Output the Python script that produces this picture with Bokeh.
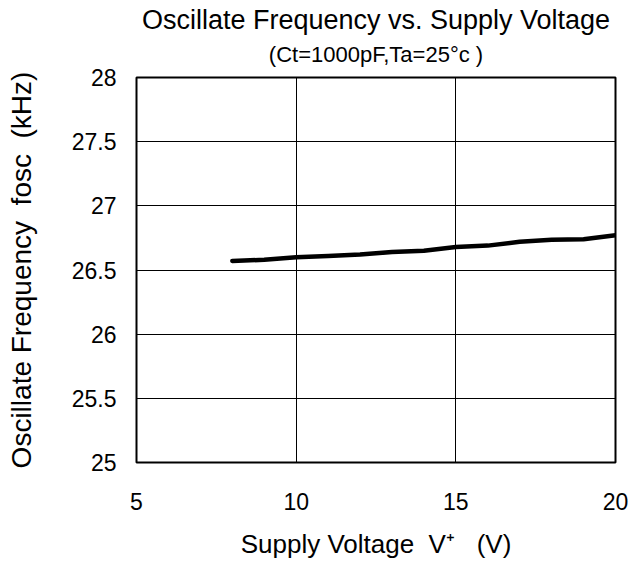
from bokeh.plotting import figure
from bokeh.models import Range1d, FixedTicker, Title
from bokeh.embed import file_html
from bokeh.resources import INLINE

# Data
supply_voltage = [8, 9, 10, 11, 12, 13, 14, 15, 16, 17, 18, 19, 20]
osc_freq_khz = [26.57, 26.58, 26.60, 26.61, 26.62, 26.64, 26.65, 26.68, 26.69, 26.72, 26.735, 26.74, 26.77]

x_ticks = [5, 10, 15, 20]
y_ticks = [25, 25.5, 26, 26.5, 27, 27.5, 28]
y_tick_labels = ["25", "25.5", "26", "26.5", "27", "27.5", "28"]

NB = "\u00a0"
title_line1 = "Oscillate Frequency vs. Supply Voltage"
title_line2 = "(Ct=1000pF,Ta=25\u00b0c" + NB + ")"
x_label = "Supply Voltage" + NB + NB + "V\u207a" + NB + NB + NB + "(V)"
y_label = "Oscillate Frequency" + NB + NB + "fosc" + NB + NB + "(kHz)"

FONT = "Liberation Sans"

p = figure(
    width=632, height=563,
    x_range=Range1d(5, 20), y_range=Range1d(25, 28),
    output_backend="svg", toolbar_location=None, tools="",
    min_border_left=136, min_border_right=17, min_border_top=77, min_border_bottom=101,
)
p.title.visible = False

p.add_layout(Title(text=title_line2, align="center", text_font=FONT, text_font_size="22px",
                   text_font_style="normal", text_color="black", standoff=22), "above")
p.add_layout(Title(text=title_line1, align="center", text_font=FONT, text_font_size="27px",
                   text_font_style="normal", text_color="black", standoff=-12), "above")

p.line(supply_voltage, osc_freq_khz, line_width=4.5, line_color="black",
       line_cap="round", line_join="round")

p.outline_line_color = "black"
p.outline_line_width = 2
p.background_fill_color = "white"
p.border_fill_color = "white"

p.xaxis.ticker = FixedTicker(ticks=x_ticks)
p.yaxis.ticker = FixedTicker(ticks=y_ticks)
p.yaxis.major_label_overrides = {t: l for t, l in zip(y_ticks, y_tick_labels)}

for ax in (p.xaxis, p.yaxis):
    ax.axis_line_color = None
    ax.major_tick_line_color = None
    ax.minor_tick_line_color = None
    ax.major_tick_out = 0
    ax.major_tick_in = 0
    ax.major_label_text_font = FONT
    ax.major_label_text_font_size = "23px"
    ax.major_label_text_color = "black"
    ax.axis_label_text_font = FONT
    ax.axis_label_text_font_style = "normal"
    ax.axis_label_text_color = "black"

p.xaxis.axis_label_text_font_size = "26px"
p.yaxis.axis_label_text_font_size = "28px"
p.xaxis.axis_label = x_label
p.yaxis.axis_label = y_label
p.xaxis.major_label_standoff = 30
p.yaxis.major_label_standoff = 20
p.xaxis.axis_label_standoff = 16
p.yaxis.axis_label_standoff = 32

p.xgrid.grid_line_color = "black"
p.ygrid.grid_line_color = "black"
p.xgrid.grid_line_width = 1
p.ygrid.grid_line_width = 1

open("out.html", "w").write(file_html(p, INLINE))
